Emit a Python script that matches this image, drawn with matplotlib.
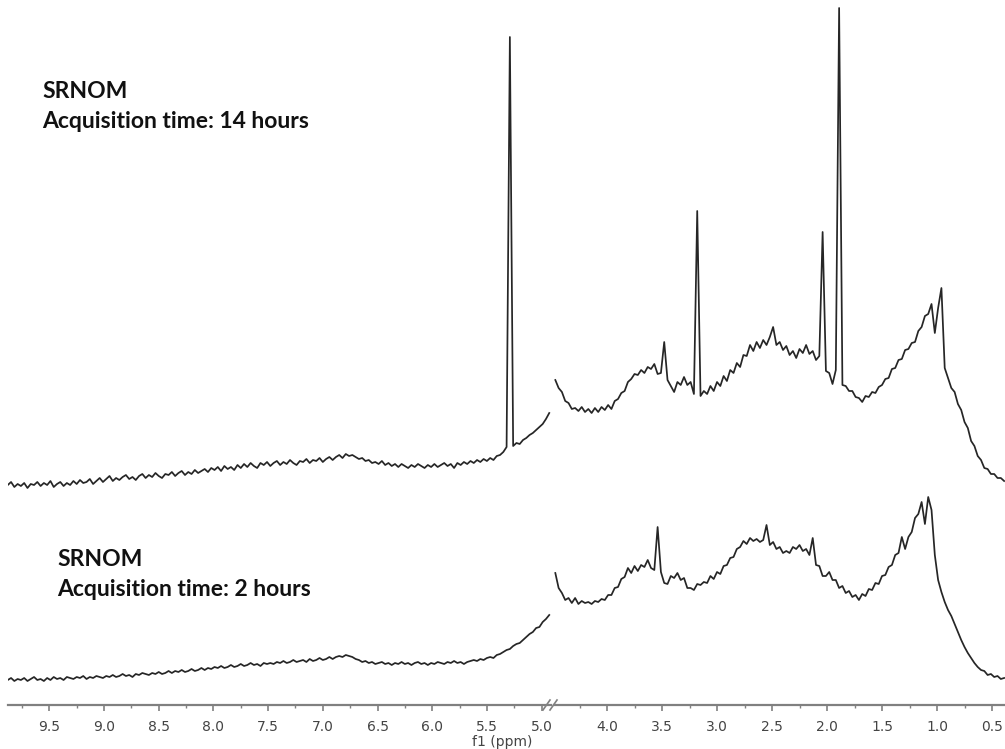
import matplotlib.pyplot as plt
import numpy as np
from matplotlib.ticker import MultipleLocator, FormatStrFormatter

# 1H NMR of SRNOM, two acquisitions; the water region is cut out of the axis
left_ppm = (9.88, 4.93)   # first and last point of left segment
right_ppm = (4.47, 0.39)  # first and last point of right segment

# intensities (arbitrary units), evenly spaced in ppm
top_left = [
    5, 8, 3, 6, 4, 7, 2, 6, 5, 8,
    4, 7, 5, 9, 3, 6, 8, 4, 7, 5,
    9, 6, 10, 7, 8, 11, 6, 9, 12, 8,
    11, 14, 9, 12, 10, 13, 15, 11, 13, 10,
    14, 16, 12, 15, 13, 17, 14, 12, 16, 15,
    18, 14, 17, 19, 15, 18, 16, 20, 17, 19,
    21, 18, 22, 20, 23, 19, 24, 21, 23, 20,
    25, 22, 26, 23, 27, 24, 22, 27, 25, 28,
    24, 27, 29, 25, 28, 26, 30, 27, 25, 29,
    28, 31, 27, 30, 29, 32, 28, 31, 33, 30,
    33, 35, 32, 36, 34, 35, 33, 31, 32, 29,
    30, 27, 28, 26, 29, 25, 27, 24, 26, 23,
    26, 24, 22, 25, 23, 26, 24, 22, 25, 23,
    26, 23, 25, 27, 24, 26, 22, 27, 25, 28,
    26, 29, 27, 30, 28, 31, 29, 32, 30, 34,
    35, 38, 43, 453, 44, 47, 46, 50, 52, 55,
    57, 60, 63, 66, 71, 77,
]
bot_left = [
    10, 12, 9, 11, 10, 12, 9, 11, 13, 10,
    11, 9, 12, 10, 13, 11, 12, 10, 13, 12,
    11, 13, 12, 14, 11, 13, 12, 14, 13, 12,
    14, 13, 15, 13, 14, 16, 14, 15, 13, 16,
    15, 17, 16, 15, 17, 16, 18, 16, 17, 19,
    17, 19, 18, 20, 18, 19, 21, 19, 20, 22,
    20, 22, 21, 23, 22, 24, 22, 23, 25, 23,
    24, 26, 24, 25, 27, 25, 26, 24, 27, 26,
    27, 26, 28, 27, 29, 27, 28, 30, 28, 29,
    30, 28, 31, 29, 30, 32, 30, 31, 33, 31,
    33, 34, 33, 35, 34, 33, 31, 30, 28, 29,
    27, 28, 26, 27, 28, 26, 27, 25, 27, 26,
    28, 26, 27, 25, 27, 28, 26, 27, 25, 27,
    26, 28, 27, 26, 28, 27, 29, 27, 28, 26,
    28, 29, 30, 29, 31, 30, 32, 33, 32, 35,
    36, 38, 40, 41, 44, 46, 47, 50, 53, 56,
    58, 62, 63, 68, 71, 75,
]
top_right = [
    110, 102, 98, 89, 87, 81, 82, 79, 83, 78,
    81, 77, 82, 78, 83, 80, 85, 81, 89, 91,
    97, 99, 108, 111, 116, 115, 120, 117, 123, 121,
    126, 116, 117, 148, 110, 104, 98, 108, 105, 113,
    105, 108, 96, 279, 94, 99, 96, 104, 99, 108,
    104, 114, 109, 120, 117, 127, 123, 135, 134, 145,
    139, 148, 142, 150, 145, 153, 163, 145, 148, 140,
    144, 135, 139, 132, 141, 137, 145, 136, 139, 130,
    134, 258, 119, 117, 106, 120, 482, 105, 104, 99,
    99, 93, 92, 88, 94, 93, 98, 97, 103, 105,
    111, 112, 121, 122, 130, 131, 140, 141, 147, 148,
    159, 163, 174, 176, 186, 157, 182, 202, 122, 112,
    102, 98, 86, 80, 68, 62, 49, 44, 34, 30,
    22, 21, 16, 16, 12, 12, 9,
]
bot_right = [
    117, 102, 97, 90, 92, 87, 92, 86, 89, 87,
    88, 86, 89, 88, 91, 90, 95, 95, 102, 103,
    111, 113, 122, 117, 124, 119, 125, 123, 130, 122,
    120, 163, 118, 107, 106, 114, 112, 117, 110, 112,
    102, 102, 100, 106, 105, 108, 107, 114, 111, 118,
    116, 124, 125, 132, 133, 141, 143, 149, 146, 152,
    149, 151, 148, 150, 165, 145, 148, 141, 143, 137,
    139, 137, 143, 141, 145, 139, 141, 135, 152, 125,
    124, 114, 114, 118, 110, 110, 102, 104, 97, 99,
    93, 95, 90, 96, 94, 101, 100, 107, 106, 114,
    115, 123, 125, 135, 137, 153, 141, 153, 158, 172,
    176, 188, 166, 193, 180, 135, 110, 98, 88, 80,
    74, 66, 58, 50, 43, 37, 32, 27, 23, 20,
    19, 15, 16, 13, 14, 11, 12,
]
top_offset = 200  # vertical stacking of the 14 h spectrum

labels_top = ['SRNOM', 'Acquisition time: 14 hours']
labels_bot = ['SRNOM', 'Acquisition time: 2 hours']

W, H = 1005, 749
fig = plt.figure(figsize=(W / 100, H / 100), dpi=100)
axL = fig.add_axes([8 / W, 44 / H, 543 / W, 705 / H])
axR = fig.add_axes([554 / W, 44 / H, 451 / W, 705 / H])

line_kw = dict(color='#262626', lw=1.25)
xl = np.linspace(*left_ppm, len(top_left))
xr = np.linspace(*right_ppm, len(top_right))
axL.plot(xl, np.array(top_left) + top_offset, **line_kw)
axL.plot(xl, bot_left, **line_kw)
axR.plot(xr, np.array(top_right) + top_offset, **line_kw)
axR.plot(xr, bot_right, **line_kw)

axL.set_xlim(9.878, 4.914)
axR.set_xlim(4.482, 0.382)

grey = '#808080'
for ax in (axL, axR):
    ax.set_ylim(-15, 690)
    for s in ('left', 'right', 'top'):
        ax.spines[s].set_visible(False)
    ax.spines['bottom'].set_color(grey)
    ax.spines['bottom'].set_linewidth(1.6)
    ax.set_yticks([])
    ax.xaxis.set_major_locator(MultipleLocator(0.5))
    ax.xaxis.set_minor_locator(MultipleLocator(0.25))
    ax.xaxis.set_major_formatter(FormatStrFormatter('%.1f'))
    ax.tick_params(axis='x', which='major', length=4, width=1.2, color=grey,
                   labelsize=10, labelcolor='#444444', pad=7)
    ax.tick_params(axis='x', which='minor', length=2.5, width=1.0, color=grey)
    ax.patch.set_visible(False)

# axis break marks
fig.add_artist(plt.Line2D([543 / W, 550 / W], [(H - 710) / H, (H - 700) / H],
                          color=grey, lw=1.2))
fig.add_artist(plt.Line2D([550 / W, 557 / W], [(H - 710) / H, (H - 700) / H],
                          color=grey, lw=1.2))

fig.text(502 / W, (H - 742) / H, 'f1 (ppm)', ha='center', va='center',
         fontsize=10, color='#444444')

tkw = dict(fontsize=16.5, fontweight='bold', family='Lato', color='#111111',
           va='baseline')
fig.text(42 / W, (H - 98) / H, labels_top[0], **tkw)
fig.text(42 / W, (H - 128) / H, labels_top[1], **tkw)
fig.text(57 / W, (H - 566) / H, labels_bot[0], **tkw)
fig.text(57 / W, (H - 596) / H, labels_bot[1], **tkw)

fig.savefig('out.png', dpi=100)
